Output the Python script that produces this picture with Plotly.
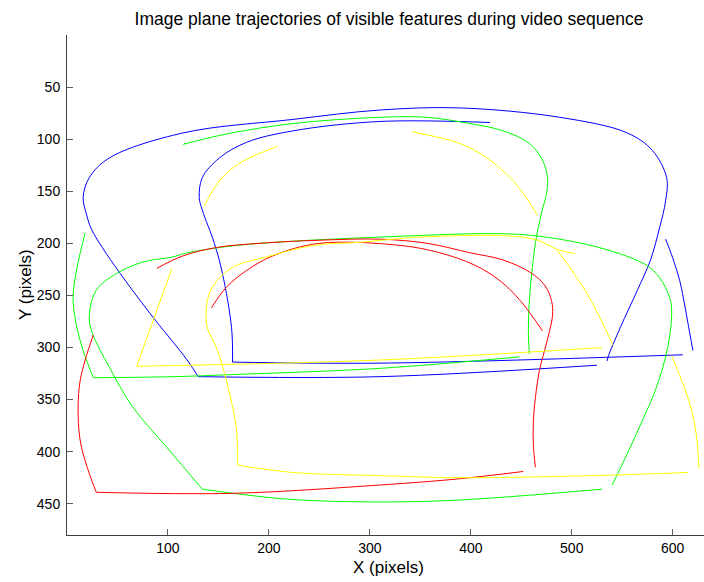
import plotly.graph_objects as go

# ---- trajectory data (image-plane pixel coordinates) ----
blue_outer_x = [535, 536, 548, 565, 578, 587, 593, 594, 580, 555, 488, 389, 310, 224, 115, 42, 22, 16, 19, 24, 35, 52, 82, 119, 130, 310, 525]
blue_outer_y = [313, 309, 281, 245, 216, 185, 159, 137, 111, 94, 79, 70, 72, 81, 94, 118, 137, 156, 171, 186, 204, 228, 267, 312, 328, 328, 317]

blue_inner_x = [419, 310, 224, 178, 151, 134, 131, 134, 146, 154, 163, 164, 310, 610]
blue_inner_y = [84, 83, 92, 103, 118, 137, 156, 168, 200, 229, 281, 314, 315, 307]

blue_right_x = [593, 600, 607, 612, 615, 620]
blue_right_y = [196, 214, 236, 260, 276, 303]

green_top_x = [115, 158, 224, 310, 356, 399, 432, 458, 471, 476, 475, 470, 465, 461, 458, 457, 458]
green_top_y = [105, 95, 85, 79, 79, 85, 92, 104, 120, 137, 152, 171, 194, 223, 255, 283, 306]

green_left_x = [18, 10, 6, 9, 16, 26, 105, 164, 310, 448]
green_left_y = [190, 223, 252, 277, 303, 329, 328, 326, 320, 309]

green_loop_x = [530, 376, 280, 211, 134, 99, 65, 42, 25, 22, 29, 49, 75, 105, 115, 151, 191, 310, 439, 488, 538, 574, 587, 597, 599, 595, 584, 570, 555, 540]
green_loop_y = [436, 447, 448, 445, 436, 396, 357, 319, 286, 271, 245, 229, 218, 213, 210, 204, 200, 194, 191, 196, 207, 221, 233, 252, 267, 300, 338, 370, 402, 432]

red_outer_x = [89, 115, 148, 191, 250, 310, 357, 399, 432, 459, 473, 480, 481, 477, 473, 468, 464, 462, 462, 464]
red_outer_y = [224, 212, 204, 200, 197, 196, 200, 209, 216, 228, 240, 255, 269, 288, 303, 322, 348, 370, 394, 415]

red_inner_x = [143, 158, 178, 204, 250, 330, 369, 404, 429, 449, 471]
red_inner_y = [262, 242, 226, 212, 200, 202, 209, 221, 236, 255, 284]

red_bottom_x = [26, 18, 13, 11, 13, 20, 29, 164, 310, 389, 452]
red_bottom_y = [288, 312, 332, 357, 389, 415, 439, 440, 432, 426, 419]

yellow_a_x = [136, 151, 171, 208]
yellow_a_y = [164, 140, 123, 107]

yellow_b_x = [342, 389, 416, 439, 452, 466]
yellow_b_y = [93, 104, 118, 137, 152, 173]

yellow_c_x = [104, 69, 310, 530]
yellow_c_y = [224, 318, 312, 300]

yellow_d_x = [503, 486, 466, 439, 350, 290, 244, 198, 164, 144, 138, 139, 148, 158, 164, 168, 169, 224, 310, 389, 521, 615]
yellow_d_y = [210, 206, 197, 193, 194, 199, 202, 213, 223, 242, 262, 281, 300, 332, 357, 380, 413, 420, 423, 425, 423, 420]

yellow_e_x = [486, 515, 541]
yellow_e_y = [207, 248, 298]

yellow_f_x = [599, 607, 615, 621, 624, 626]
yellow_f_y = [308, 327, 348, 370, 389, 416]

x_ticks = [100, 200, 300, 400, 500, 600]
y_ticks = [50, 100, 150, 200, 250, 300, 350, 400, 450]

# (x, y, colour, indices of sharp corners)
traces = [
    (blue_outer_x, blue_outer_y, "#0000ff", [24]),
    (blue_inner_x, blue_inner_y, "#0000ff", [11]),
    (blue_right_x, blue_right_y, "#0000ff", []),
    (green_top_x, green_top_y, "#00ff00", []),
    (green_left_x, green_left_y, "#00ff00", [5]),
    (green_loop_x, green_loop_y, "#00ff00", [4]),
    (red_outer_x, red_outer_y, "#ff0000", []),
    (red_inner_x, red_inner_y, "#ff0000", []),
    (red_bottom_x, red_bottom_y, "#ff0000", [6]),
    (yellow_a_x, yellow_a_y, "#ffff00", []),
    (yellow_b_x, yellow_b_y, "#ffff00", []),
    (yellow_c_x, yellow_c_y, "#ffff00", [1]),
    (yellow_d_x, yellow_d_y, "#ffff00", [16]),
    (yellow_e_x, yellow_e_y, "#ffff00", []),
    (yellow_f_x, yellow_f_y, "#ffff00", []),
]

fig = go.Figure()
for xs, ys, col, corners in traces:
    bounds = [0] + corners + [len(xs) - 1]
    for a, b in zip(bounds[:-1], bounds[1:]):
        fig.add_trace(go.Scatter(x=xs[a:b + 1], y=ys[a:b + 1], mode="lines",
                                 line=dict(color=col, width=1, shape="spline", smoothing=1.0),
                                 showlegend=False, hoverinfo="skip"))

font = "Liberation Sans, Arial, Helvetica, sans-serif"
axis_common = dict(showgrid=False, zeroline=False, showline=True,
                   linecolor="#404040", linewidth=1, ticks="inside",
                   ticklen=6, tickcolor="#606060", tickwidth=1,
                   tickfont=dict(family=font, size=14, color="#000000"))

fig.update_layout(
    width=704, height=582,
    margin=dict(l=67, r=0, t=35, b=47),
    paper_bgcolor="white", plot_bgcolor="white",
    font=dict(family=font, color="#000000"),
    title=dict(text="Image plane trajectories of visible features during video sequence",
               x=389 / 704, xref="container", xanchor="center",
               y=1 - 19 / 582, yref="container", yanchor="middle",
               font=dict(family=font, size=17.5, color="#000000")),
    xaxis=dict(range=[0, 631], tickvals=x_ticks, **axis_common),
    yaxis=dict(range=[480, 0], tickvals=y_ticks, ticklabelstandoff=3, **axis_common),
    annotations=[
        dict(text="X (pixels)", xref="paper", yref="paper",
             x=(388 - 67) / (704 - 67), y=-(567 - 535) / (535 - 35),
             xanchor="center", yanchor="middle", showarrow=False,
             font=dict(family=font, size=17, color="#000000")),
        dict(text="Y (pixels)", xref="paper", yref="paper",
             x=-(67 - 25) / (704 - 67), y=(535 - 285) / (535 - 35),
             xanchor="center", yanchor="middle", showarrow=False, textangle=-90,
             font=dict(family=font, size=17, color="#000000")),
    ],
)

fig.write_html("out.html")
